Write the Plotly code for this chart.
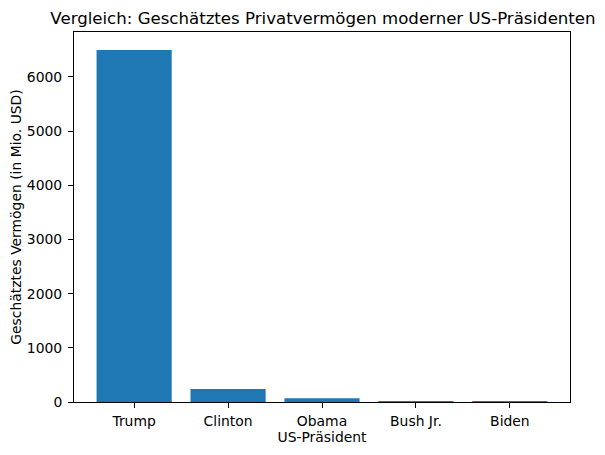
import plotly.graph_objects as go

# Geschätztes Vermögen (Mio. USD)
praesidenten = ["Trump", "Clinton", "Obama", "Bush Jr.", "Biden"]
vermoegen = [6500, 240, 70, 18, 12]
y_ticks = [0, 1000, 2000, 3000, 4000, 5000, 6000]

fig = go.Figure(go.Bar(
    x=list(range(len(praesidenten))),
    y=vermoegen,
    width=0.8,
    marker_color="#1f77b4",
    marker_line_width=0,
))

axis_font = dict(family="DejaVu Sans", size=13.9, color="black")

# page body has 8px margin, so the figure sits at (8, 8)
fig.update_layout(
    width=597, height=447,
    margin=dict(l=66, r=35, t=24, b=53),
    paper_bgcolor="white",
    plot_bgcolor="white",
    showlegend=False,
    font=dict(family="DejaVu Sans", color="black"),
    title=dict(
        text="Vergleich: Geschätztes Privatvermögen moderner US-Präsidenten",
        x=0.5276, xanchor="center", y=0.978, yanchor="middle",
        font=dict(family="DejaVu Sans", size=16.6, color="black"),
    ),
)

fig.update_xaxes(
    range=[-0.64, 4.64],
    tickvals=list(range(len(praesidenten))),
    ticktext=praesidenten,
    ticks="outside", ticklen=5, tickwidth=1, tickcolor="black",
    ticklabelstandoff=1,
    showline=True, linecolor="black", linewidth=1, mirror=True,
    showgrid=False, zeroline=False, automargin=False,
    tickfont=axis_font,
    title=dict(text="US-Präsident", font=axis_font, standoff=2),
)
fig.update_yaxes(
    range=[0, 6830],
    tickvals=y_ticks,
    ticks="outside", ticklen=5, tickwidth=1, tickcolor="black",
    ticklabelstandoff=3,
    showline=True, linecolor="black", linewidth=1, mirror=True,
    showgrid=False, zeroline=False, automargin=False,
    tickfont=axis_font,
    title=dict(text="Geschätztes Vermögen (in Mio. USD)", font=axis_font, standoff=4),
)

fig.write_html("out.html")
